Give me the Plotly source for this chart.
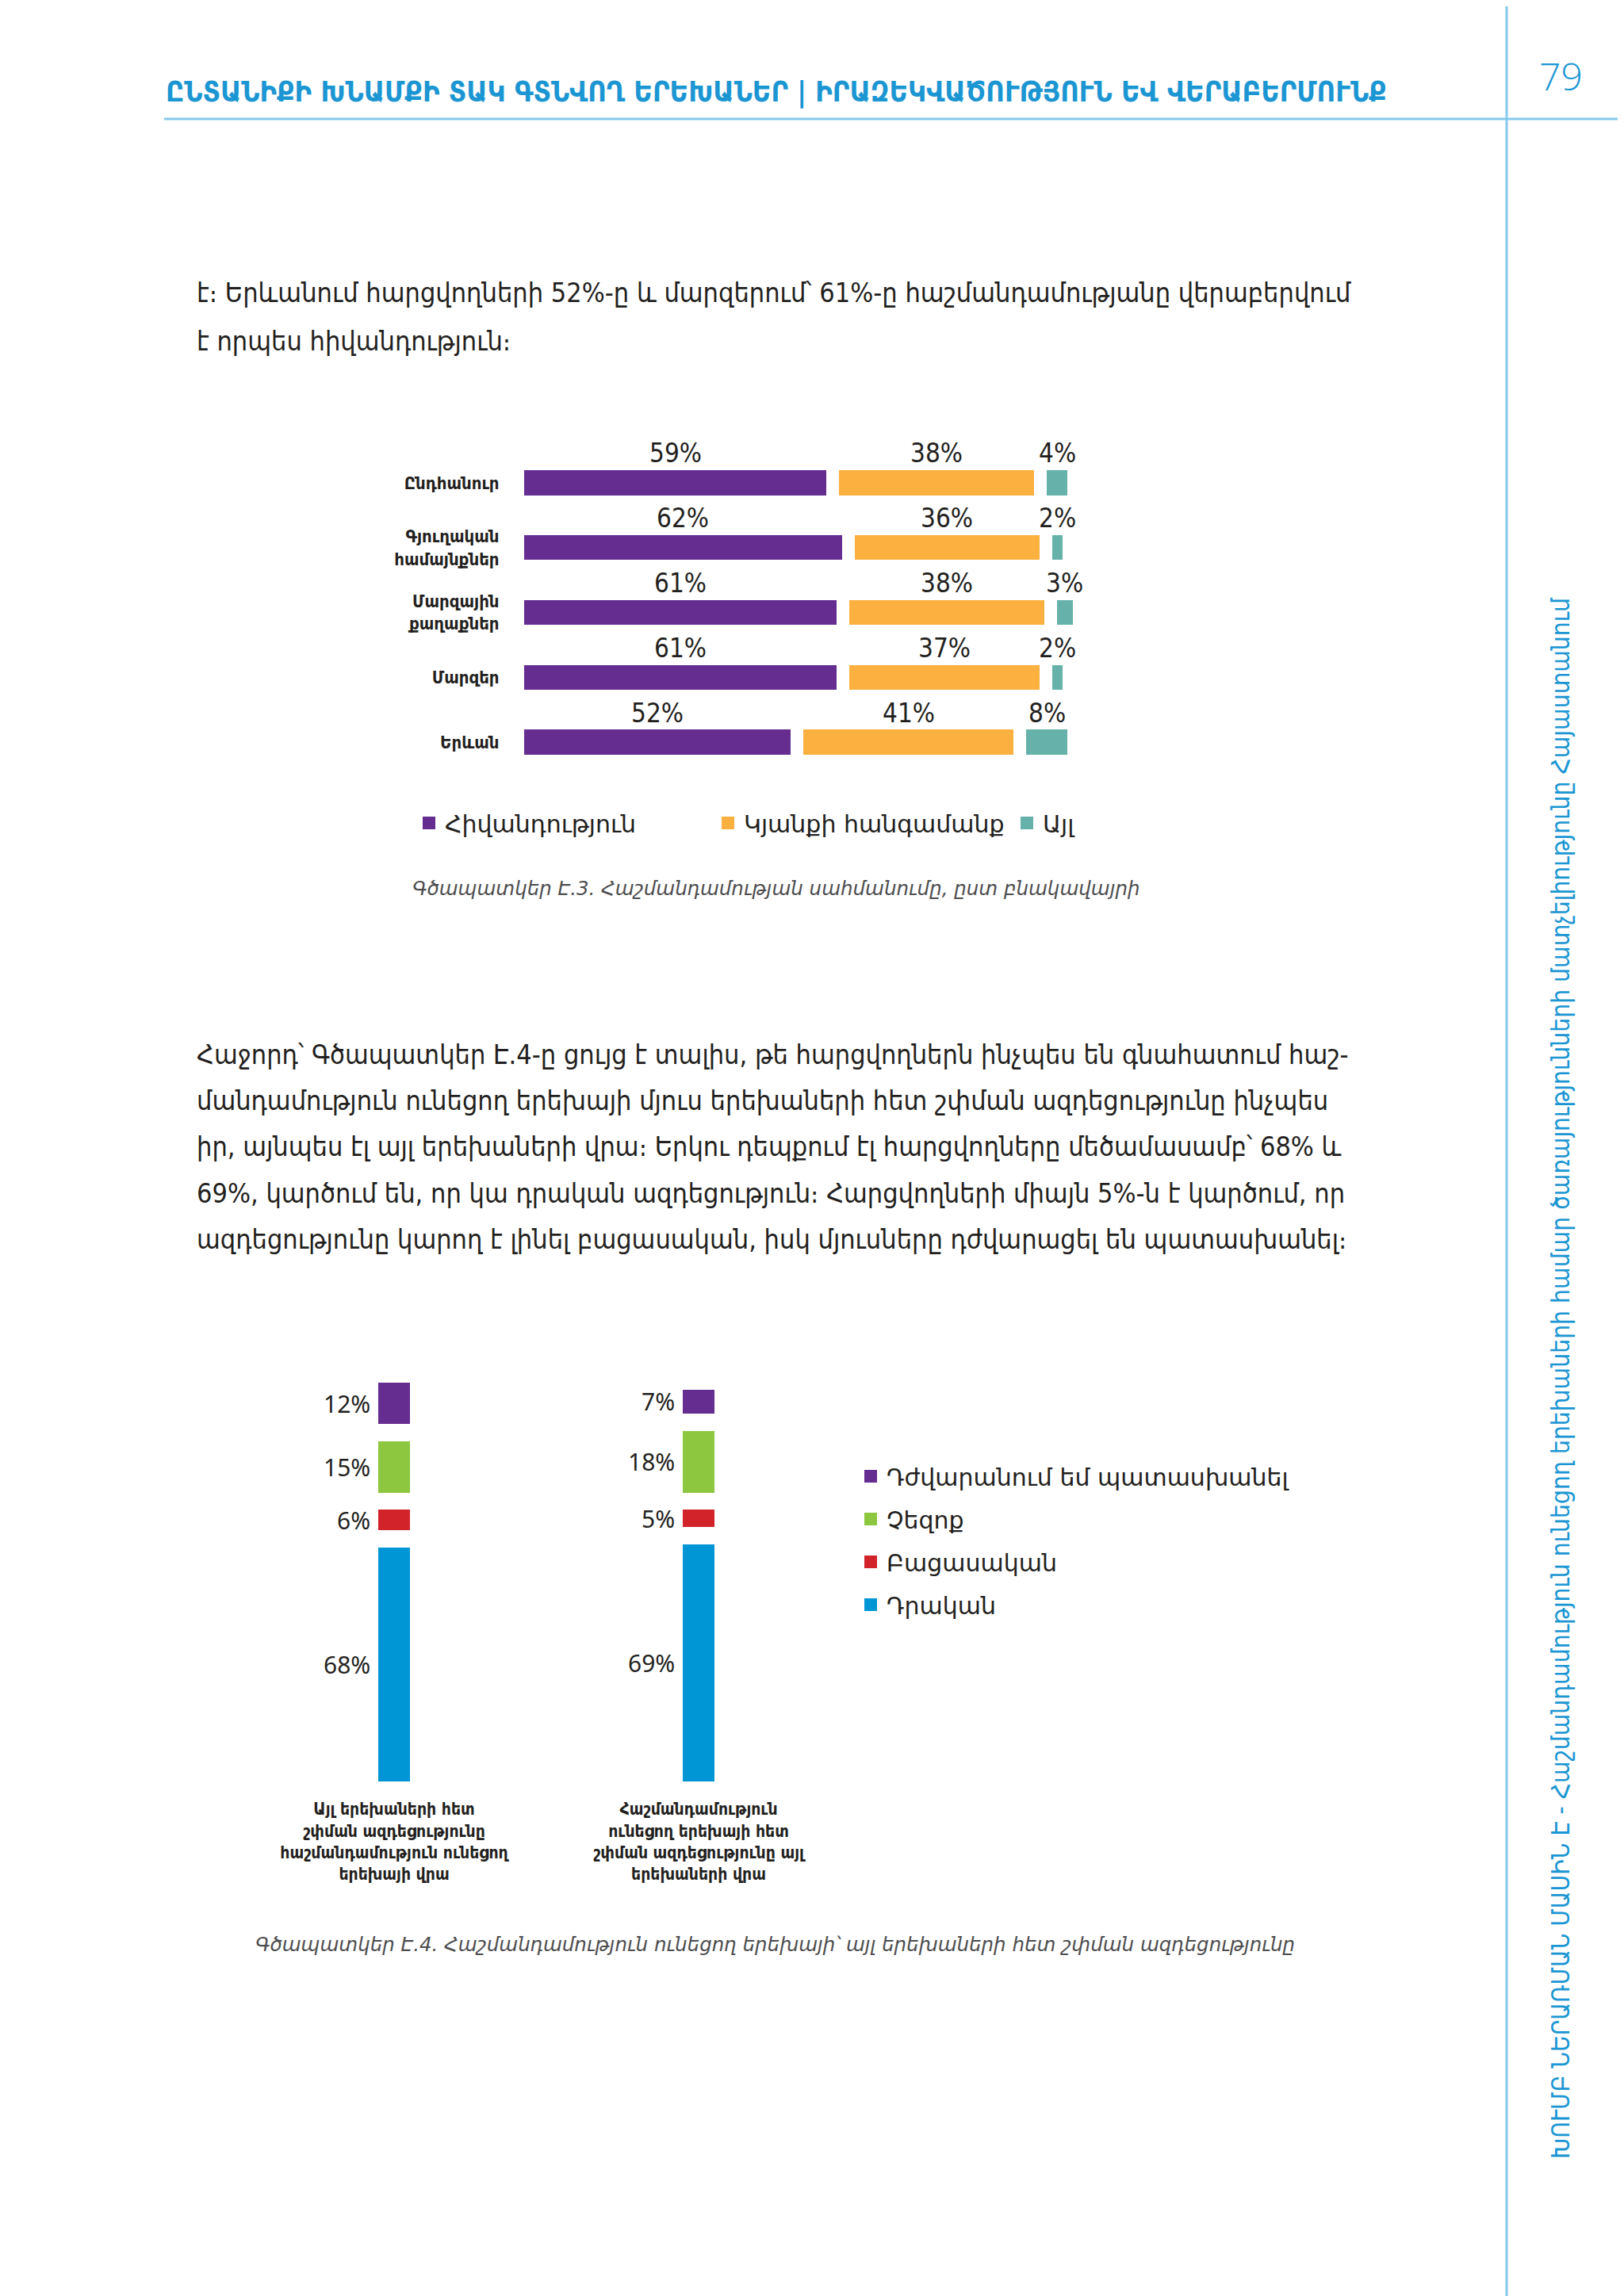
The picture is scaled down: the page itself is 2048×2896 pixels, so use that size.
import plotly.graph_objects as go

W, H = 2048, 2896

# ---------------- data: chart E.3 ----------------
cat1 = ["Ընդհանուր", "Գյուղական<br>համայնքներ", "Մարզային<br>քաղաքներ", "Մարզեր", "Երևան"]
names1 = ["Հիվանդություն", "Կյանքի հանգամանք", "Այլ"]
illness = [59, 62, 61, 61, 52]
life_circ = [38, 36, 38, 37, 41]
other = [4, 2, 3, 2, 8]
colors1 = ["#662d91", "#fbb040", "#66b2aa"]

# ---------------- data: chart E.4 ----------------
cat2 = ["Այլ երեխաների հետ<br>շփման ազդեցությունը<br>հաշմանդամություն ունեցող<br>երեխայի վրա",
        "Հաշմանդամություն<br>ունեցող երեխայի հետ<br>շփման ազդեցությունը այլ<br>երեխաների վրա"]
names2 = ["Դրական", "Բացասական", "Չեզոք", "Դժվարանում եմ պատասխանել"]
positive = [68, 69]
negative = [6, 5]
neutral = [15, 18]
dont_know = [12, 7]
colors2 = ["#0096d6", "#d2232a", "#8dc63f", "#662d91"]

# ---------------- texts ----------------
header = "ԸՆՏԱՆԻՔԻ ԽՆԱՄՔԻ ՏԱԿ ԳՏՆՎՈՂ ԵՐԵԽԱՆԵՐ | ԻՐԱԶԵԿՎԱԾՈՒԹՅՈՒՆ ԵՎ ՎԵՐԱԲԵՐՄՈՒՆՔ"
page_no = "79"
side_text = ("ԽՈՒՄԲ ՆԵՐԱՌՄԱՆ ՄԱՍԻՆ Է - Հաշմանդամություն ունեցող երեխաների համար "
             "ծառայությունների մատչելիությունը Հայաստանում")
para1 = ["է։ Երևանում հարցվողների 52%-ը և մարզերում՝ 61%-ը հաշմանդամությանը վերաբերվում",
         "է որպես հիվանդություն։"]
para2 = ["Հաջորդ՝ Գծապատկեր Է.4-ը ցույց է տալիս, թե հարցվողներն ինչպես են գնահատում հաշ-",
         "մանդամություն ունեցող երեխայի մյուս երեխաների հետ շփման ազդեցությունը ինչպես",
         "իր, այնպես էլ այլ երեխաների վրա։ Երկու դեպքում էլ հարցվողները մեծամասամբ՝ 68% և",
         "69%, կարծում են, որ կա դրական ազդեցություն։ Հարցվողների միայն 5%-ն է կարծում, որ",
         "ազդեցությունը կարող է լինել բացասական, իսկ մյուսները դժվարացել են պատասխանել։"]
caption1 = "Գծապատկեր Է.3. Հաշմանդամության սահմանումը, ըստ բնակավայրի"
caption2 = "Գծապատկեր Է.4. Հաշմանդամություն ունեցող երեխայի՝ այլ երեխաների հետ շփման ազդեցությունը"

ARM = "DejaVu Sans Condensed, DejaVu Sans, sans-serif"
ARM_REG = "DejaVu Sans, sans-serif"
NUM_COND = "Liberation Sans Narrow, DejaVu Sans Condensed, Roboto, sans-serif"
NUM = "Noto Sans, Open Sans, sans-serif"
BLUE = "#1b96d3"
LINE_BLUE = "#86c9ec"
TXT = "#231f20"

OFF = 8  # page body margin compensation


def px_x(p):
    return (p - OFF) / W


def px_y(p):
    return 1 - (p - OFF) / H


fig = go.Figure()

# ---------------- chart E.3 (horizontal, separated segments) ----------------
GAP1 = 2.5
series1 = [illness, life_circ, other]
bases1 = []
for s in range(len(series1)):
    b = []
    for i in range(len(cat1)):
        b.append(sum(series1[k][i] for k in range(s)) + s * GAP1)
    bases1.append(b)

for s, vals in enumerate(series1):
    fig.add_trace(go.Bar(
        x=vals, y=cat1, base=bases1[s], orientation="h", width=0.384,
        marker=dict(color=colors1[s], line=dict(width=0)),
        showlegend=False, xaxis="x", yaxis="y", hoverinfo="skip"))
    fig.add_trace(go.Scatter(
        x=[None], y=[None], mode="markers", name=names1[s],
        marker=dict(symbol="square", size=16, color=colors1[s]),
        legend="legend", xaxis="x", yaxis="y"))

annotations = []
for s, vals in enumerate(series1):
    for i, v in enumerate(vals):
        annotations.append(dict(
            x=bases1[s][i] + v / 2, y=cat1[i], xref="x", yref="y",
            text=f"{v}%", showarrow=False, yshift=37,
            font=dict(family=NUM_COND, size=33, color=TXT)))

# ---------------- chart E.4 (vertical, separated segments) ----------------
GAP2 = 5
series2 = [positive, negative, neutral, dont_know]
bases2 = []
for s in range(len(series2)):
    b = []
    for j in range(len(cat2)):
        b.append(sum(series2[k][j] for k in range(s)) + s * GAP2)
    bases2.append(b)

for s, vals in enumerate(series2):
    fig.add_trace(go.Bar(
        x=cat2, y=vals, base=bases2[s], width=0.106,
        marker=dict(color=colors2[s], line=dict(width=0)),
        showlegend=False, xaxis="x2", yaxis="y2", hoverinfo="skip"))

for s in reversed(range(len(series2))):
    fig.add_trace(go.Scatter(
        x=[None], y=[None], mode="markers", name=names2[s],
        marker=dict(symbol="square", size=16, color=colors2[s]),
        legend="legend2", legendgroup=f"g{s}", xaxis="x2", yaxis="y2"))

for s, vals in enumerate(series2):
    for j, v in enumerate(vals):
        annotations.append(dict(
            x=cat2[j], y=bases2[s][j] + v / 2, xref="x2", yref="y2",
            text=f"{v}%", showarrow=False, xanchor="right", xshift=-28,
            font=dict(family=NUM, size=30, color=TXT)))

# ---------------- page texts ----------------
annotations.append(dict(x=px_x(207), y=px_y(116), xref="paper", yref="paper",
                        xanchor="left", yanchor="middle", showarrow=False,
                        text=f"<b>{header}</b>",
                        font=dict(family=ARM, size=36, color=BLUE)))
annotations.append(dict(x=px_x(1968), y=px_y(96), xref="paper", yref="paper",
                        xanchor="center", yanchor="middle", showarrow=False,
                        text=page_no, font=dict(family="Open Sans, sans-serif", size=48,
                                                color=BLUE, weight=300)))
annotations.append(dict(x=px_x(1968), y=px_y(1738), xref="paper", yref="paper",
                        xanchor="center", yanchor="middle", showarrow=False,
                        textangle=-90, text=side_text,
                        font=dict(family=ARM, size=31.5, color=BLUE)))

for k, line in enumerate(para1):
    annotations.append(dict(x=px_x(246), y=px_y([369, 430][k]), xref="paper", yref="paper",
                            xanchor="left", yanchor="middle", showarrow=False,
                            text=line, font=dict(family=ARM, size=34, color=TXT)))
for k, line in enumerate(para2):
    annotations.append(dict(x=px_x(246), y=px_y([1330, 1388, 1446, 1505, 1563][k]),
                            xref="paper", yref="paper",
                            xanchor="left", yanchor="middle", showarrow=False,
                            text=line, font=dict(family=ARM, size=34, color=TXT)))

annotations.append(dict(x=px_x(979), y=px_y(1121), xref="paper", yref="paper",
                        xanchor="center", yanchor="middle", showarrow=False,
                        text=f"<i>{caption1}</i>",
                        font=dict(family=ARM_REG, size=24.5, color="#4d4d4f")))
annotations.append(dict(x=px_x(977), y=px_y(2452), xref="paper", yref="paper",
                        xanchor="center", yanchor="middle", showarrow=False,
                        text=f"<i>{caption2}</i>",
                        font=dict(family=ARM_REG, size=24.5, color="#4d4d4f")))

shapes = [
    dict(type="line", xref="paper", yref="paper", x0=px_x(207), x1=1,
         y0=px_y(150), y1=px_y(150), line=dict(color=LINE_BLUE, width=3)),
    dict(type="line", xref="paper", yref="paper", x0=px_x(1900), x1=px_x(1900),
         y0=0, y1=1, line=dict(color=LINE_BLUE, width=3)),
]

fig.update_layout(
    width=W, height=H, margin=dict(l=0, r=0, t=0, b=0),
    paper_bgcolor="white", plot_bgcolor="white",
    barmode="overlay", bargap=0,
    showlegend=True,
    xaxis=dict(domain=[px_x(661), px_x(1359)], range=[0, 108], visible=False, fixedrange=True),
    yaxis=dict(domain=[px_y(977), px_y(568)], type="category", categoryarray=cat1,
               categoryorder="array", range=[4.5, -0.5], showgrid=False, zeroline=False,
               showline=False, ticks="outside", ticklen=26, tickcolor="rgba(0,0,0,0)",
               tickfont=dict(family=ARM, size=22, color=TXT, weight="bold")),
    xaxis2=dict(domain=[px_x(305), px_x(1073)], type="category", categoryarray=cat2,
                categoryorder="array", range=[-0.5, 1.5], showgrid=False, zeroline=False,
                showline=False, ticks="outside", ticklen=16, tickcolor="rgba(0,0,0,0)",
                tickfont=dict(family=ARM, size=21, color=TXT, weight="bold"), anchor="y2"),
    yaxis2=dict(domain=[px_y(2247), px_y(1744)], range=[0, 116], visible=False, anchor="x2"),
    legend=dict(orientation="h", x=px_x(521), y=px_y(1038), xanchor="left", yanchor="middle",
                font=dict(family=ARM_REG, size=30, color=TXT), itemsizing="trace",
                entrywidth=332, bgcolor="rgba(0,0,0,0)"),
    legend2=dict(orientation="v", x=px_x(1078), y=px_y(1836), xanchor="left", yanchor="top",
                 font=dict(family=ARM_REG, size=30, color=TXT), itemsizing="trace",
                 tracegroupgap=12, traceorder="grouped", bgcolor="rgba(0,0,0,0)"),
    annotations=annotations, shapes=shapes,
)

fig.write_html("out.html")
